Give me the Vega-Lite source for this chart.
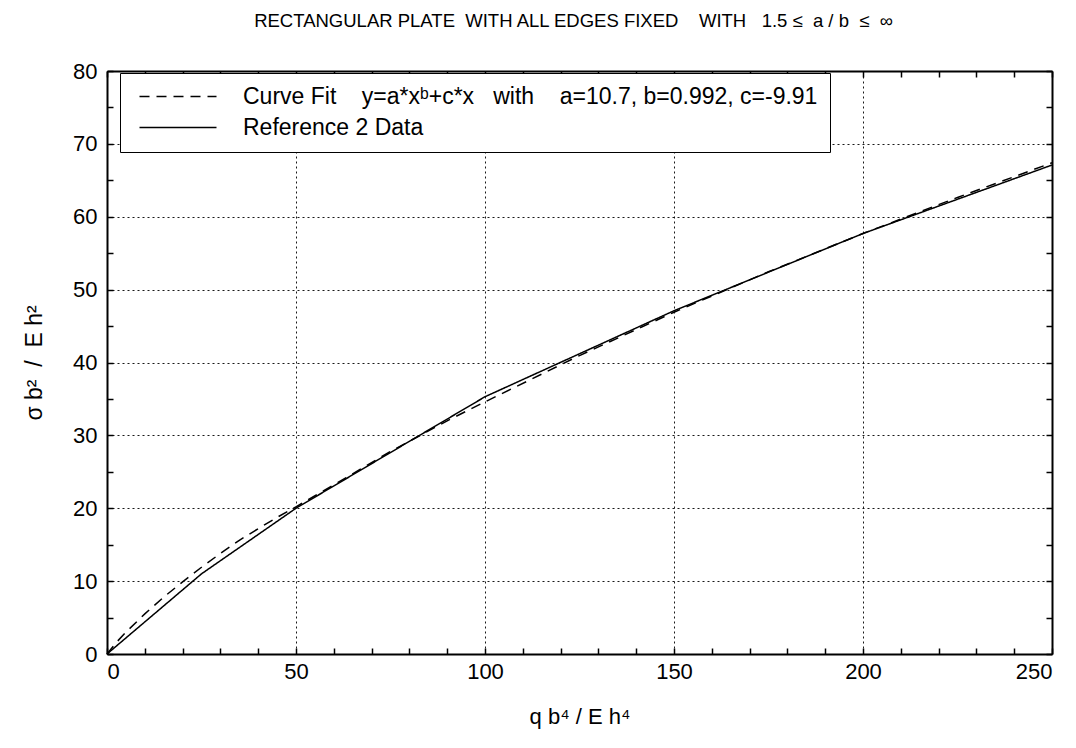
{
  "$schema": "https://vega.github.io/schema/vega-lite/v6.json",
  "width": 945,
  "height": 583,
  "autosize": {"type": "none"},
  "padding": {"left": 107, "top": 71, "right": 24, "bottom": 94},
  "background": "white",
  "title": {
    "text": "RECTANGULAR PLATE\u00a0 WITH ALL EDGES FIXED\u00a0\u00a0\u00a0 WITH\u00a0\u00a0 1.5 ≤\u00a0 a / b\u00a0 ≤\u00a0 ∞",
    "font": "Liberation Sans",
    "fontSize": 18.5,
    "fontWeight": "normal",
    "color": "black",
    "anchor": "middle",
    "dx": -6,
    "offset": 30
  },
  "data": {
    "values": [
      {"x": 0, "y": 0, "s": "fit"},
      {"x": 2.5, "y": 1.6, "s": "fit"},
      {"x": 5, "y": 3.0, "s": "fit"},
      {"x": 10, "y": 5.5, "s": "fit"},
      {"x": 15, "y": 7.8, "s": "fit"},
      {"x": 20, "y": 9.9, "s": "fit"},
      {"x": 25, "y": 11.9, "s": "fit"},
      {"x": 30, "y": 13.8, "s": "fit"},
      {"x": 35, "y": 15.6, "s": "fit"},
      {"x": 40, "y": 17.2, "s": "fit"},
      {"x": 45, "y": 18.75, "s": "fit"},
      {"x": 50, "y": 20.2, "s": "fit"},
      {"x": 60, "y": 23.2, "s": "fit"},
      {"x": 75, "y": 27.8, "s": "fit"},
      {"x": 90, "y": 32.0, "s": "fit"},
      {"x": 100, "y": 34.6, "s": "fit"},
      {"x": 125, "y": 40.95, "s": "fit"},
      {"x": 150, "y": 46.9, "s": "fit"},
      {"x": 175, "y": 52.45, "s": "fit"},
      {"x": 200, "y": 57.7, "s": "fit"},
      {"x": 225, "y": 62.65, "s": "fit"},
      {"x": 250, "y": 67.4, "s": "fit"},
      {"x": 0, "y": 0, "s": "ref"},
      {"x": 25, "y": 11.0, "s": "ref"},
      {"x": 50, "y": 20.0, "s": "ref"},
      {"x": 100, "y": 35.3, "s": "ref"},
      {"x": 150, "y": 47.1, "s": "ref"},
      {"x": 200, "y": 57.7, "s": "ref"},
      {"x": 250, "y": 67.1, "s": "ref"}
    ]
  },
  "layer": [
    {
      "mark": {"type": "line", "color": "black", "strokeWidth": 1.5},
      "encoding": {
        "x": {
          "field": "x", "type": "quantitative",
          "scale": {"domain": [0, 250], "nice": false, "zero": false},
          "axis": {
            "orient": "bottom",
            "values": [0,10,20,30,40,50,60,70,80,90,100,110,120,130,140,150,160,170,180,190,200,210,220,230,240,250],
            "labelExpr": "datum.value % 50 === 0 ? datum.label : ''",
            "labelPadding": 13,
            "gridOpacity": {"condition": {"test": "datum.value % 50 === 0", "value": 0.9}, "value": 0},
            "title": "q b⁴ / E h⁴",
            "titleFontSize": 22,
            "titlePadding": 24
          }
        },
        "y": {
          "field": "y", "type": "quantitative",
          "scale": {"domain": [0, 80], "nice": false, "zero": false},
          "axis": {
            "orient": "left",
            "values": [0,5,10,15,20,25,30,35,40,45,50,55,60,65,70,75,80],
            "labelExpr": "datum.value % 10 === 0 ? datum.label : ''",
            "labelPadding": 16,
            "gridOpacity": {"condition": {"test": "datum.value % 10 === 0", "value": 0.9}, "value": 0},
            "title": "σ b²\u00a0 /\u00a0 E h²",
            "titleFontSize": 23,
            "titlePadding": 26
          }
        },
        "strokeDash": {
          "field": "s", "type": "nominal",
          "scale": {"domain": ["fit", "ref"], "range": [[10, 7], [1, 0]]},
          "legend": {
            "orient": "none",
            "legendX": 13,
            "legendY": 2,
            "title": null,
            "strokeColor": "black",
            "fillColor": "white",
            "padding": 12,
            "symbolType": "M-1,0H14.4",
            "symbolSize": 100,
            "symbolStrokeWidth": 1.5,
            "symbolStrokeColor": "black",
            "symbolOffset": 1,
            "labelOffset": 87,
            "labelFont": "Liberation Sans",
            "labelFontSize": 23,
            "labelColor": "black",
            "labelLimit": 0,
            "rowPadding": 7,
            "labelExpr": "datum.value === 'fit' ? 'Curve Fit\u00a0\u00a0\u00a0 y=a*xᵇ+c*x\u00a0\u00a0 with\u00a0\u00a0\u00a0 a=10.7, b=0.992, c=-9.91' : 'Reference 2 Data'"
          }
        }
      }
    },
    {
      "mark": {"type": "line", "opacity": 0},
      "encoding": {
        "x": {
          "field": "x", "type": "quantitative",
          "axis": {
            "orient": "top",
            "values": [0,10,20,30,40,50,60,70,80,90,100,110,120,130,140,150,160,170,180,190,200,210,220,230,240,250],
            "labels": false, "grid": false, "title": null
          }
        },
        "y": {
          "field": "y", "type": "quantitative",
          "axis": {
            "orient": "right",
            "values": [0,5,10,15,20,25,30,35,40,45,50,55,60,65,70,75,80],
            "labels": false, "grid": false, "title": null
          }
        }
      }
    }
  ],
  "resolve": {"axis": {"x": "independent", "y": "independent"}},
  "config": {
    "view": {"stroke": null},
    "axis": {
      "domainColor": "black",
      "domainWidth": 2,
      "tickColor": "black",
      "tickWidth": 1.5,
      "tickSize": -6,
      "labelFont": "Liberation Sans",
      "labelFontSize": 22,
      "labelColor": "black",
      "labelPadding": 8,
      "titleFont": "Liberation Sans",
      "titleFontSize": 22,
      "titleFontWeight": "normal",
      "titleColor": "black",
      "grid": true,
      "gridColor": "black",
      "gridDash": [2, 3],
      "gridWidth": 1
    }
  }
}
